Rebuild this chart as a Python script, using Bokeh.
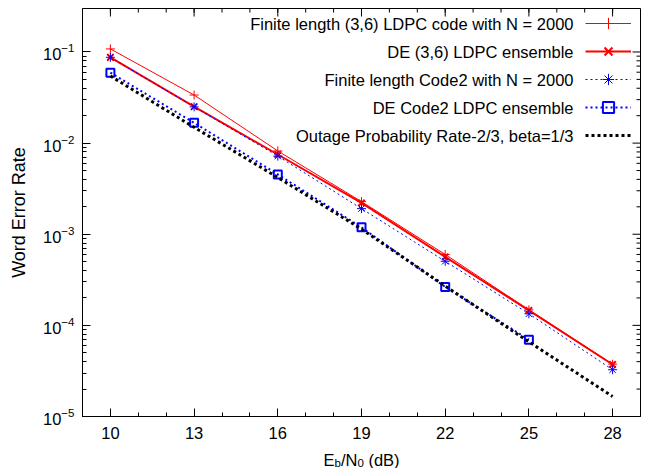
import math
from bokeh.plotting import figure
from bokeh.layouts import column
from bokeh.models import Range1d, FixedTicker, Legend, LegendItem, Label
from bokeh.embed import file_html
from bokeh.resources import INLINE

# ---------------- data ----------------
ebn0 = [10, 13, 16, 19, 22, 25, 28]
wer_finite_36 = [0.108, 0.0337, 0.0082, 0.00228, 6.0e-4, 1.48e-4, 3.75e-5]
wer_de_36 = [0.0874, 0.0251, 0.0075, 0.00221, 5.64e-4, 1.46e-4, 3.72e-5]
wer_finite_code2 = [0.0874, 0.0250, 0.0072, 0.00191, 5.05e-4, 1.34e-4, 3.26e-5]
ebn0_de_code2 = [10, 13, 16, 19, 22, 25]
wer_de_code2 = [0.0593, 0.0167, 0.00453, 0.00119, 2.64e-4, 6.97e-5]
wer_outage = [0.0545, 0.0149, 0.0042, 0.00114, 2.7e-4, 6.6e-5, 1.66e-5]

legend_labels = [
    "Finite length (3,6) LDPC code with N = 2000",
    "DE (3,6) LDPC ensemble",
    "Finite length Code2 with N = 2000",
    "DE Code2 LDPC ensemble",
    "Outage Probability Rate-2/3, beta=1/3",
]
x_major_ticks = [10, 13, 16, 19, 22, 25, 28]
x_minor_ticks = list(range(9, 30))
y_major_ticks = [1e-5, 1e-4, 1e-3, 1e-2, 1e-1]
y_minor_ticks = [m * d for d in [1e-5, 1e-4, 1e-3, 1e-2] for m in range(2, 10)]
X_MIN, X_MAX = 9, 29
Y_MIN, Y_MAX = 1e-5, 0.3

FONT = "Liberation Sans"
FS = "16.5px"

W = 647
H1, H2 = 446, 22
BL, BR, BT = 82, 7, 8
FRAME_H = 408
BB = H1 - BT - FRAME_H

p = figure(width=W, height=H1, x_range=Range1d(X_MIN, X_MAX), y_range=Range1d(Y_MIN, Y_MAX),
           y_axis_type="log", output_backend="svg", toolbar_location=None,
           min_border_left=BL, min_border_right=BR, min_border_top=BT,
           min_border_bottom=BB)
p.xgrid.visible = False
p.ygrid.visible = False
p.outline_line_color = "black"
p.outline_line_alpha = 1.0
p.outline_line_width = 1
p.background_fill_color = "white"
p.border_fill_color = "white"

for ax in (p.xaxis[0], p.yaxis[0]):
    ax.major_tick_in = 8
    ax.major_tick_out = 0
    ax.minor_tick_in = 4
    ax.minor_tick_out = 0
    ax.major_tick_line_color = "black"
    ax.minor_tick_line_color = "black"
    ax.axis_line_color = "black"
    ax.major_label_text_font = FONT
    ax.major_label_text_font_size = FS
    ax.major_label_text_color = "black"

xax = p.xaxis[0]
yax = p.yaxis[0]
xax.ticker = FixedTicker(ticks=x_major_ticks, minor_ticks=x_minor_ticks)
yax.ticker = FixedTicker(ticks=y_major_ticks, minor_ticks=y_minor_ticks)
xax.major_label_standoff = 10
yax.major_label_standoff = 8
yax.axis_label = "Word Error Rate"
yax.axis_label_text_font = FONT
yax.axis_label_text_font_size = "18px"
yax.axis_label_text_font_style = "normal"
yax.axis_label_text_color = "black"
yax.axis_label_standoff = 11

# mirrored ticks on the top and right borders (from the tick arrays)
p.ray(x=x_major_ticks, y=[Y_MAX] * len(x_major_ticks), length=8, length_units="screen",
      angle=-math.pi / 2, line_color="black", line_width=1)
p.ray(x=x_minor_ticks, y=[Y_MAX] * len(x_minor_ticks), length=4, length_units="screen",
      angle=-math.pi / 2, line_color="black", line_width=1)
p.ray(x=[X_MAX] * len(y_major_ticks), y=y_major_ticks, length=8, length_units="screen",
      angle=math.pi, line_color="black", line_width=1)
p.ray(x=[X_MAX] * len(y_minor_ticks), y=y_minor_ticks, length=4, length_units="screen",
      angle=math.pi, line_color="black", line_width=1)

RED = "#ff0000"
BLUE = "#0000ff"

r1l = p.line(ebn0, wer_finite_36, line_color=RED, line_width=1)
r1m = p.scatter(ebn0, wer_finite_36, marker="cross", size=9, line_color=RED, line_width=1)
r2l = p.line(ebn0, wer_de_36, line_color=RED, line_width=2)
r2m = p.scatter(ebn0, wer_de_36, marker="x", size=9, line_color=RED, line_width=2)
r3l = p.line(ebn0, wer_finite_code2, line_color=BLUE, line_width=1, line_dash="2 3")
r3m = p.scatter(ebn0, wer_finite_code2, marker="asterisk", size=9, line_color=BLUE, line_width=1)
r4l = p.line(ebn0_de_code2, wer_de_code2, line_color=BLUE, line_width=2, line_dash="2 3")
r4m = p.scatter(ebn0_de_code2, wer_de_code2, marker="square", size=8, line_color=BLUE,
                line_width=2, fill_color=None)
r5l = p.line(ebn0, wer_outage, line_color="black", line_width=3, line_dash="3 3")

items = [
    LegendItem(label=" ", renderers=[r1l, r1m]),
    LegendItem(label=" ", renderers=[r2l, r2m]),
    LegendItem(label=" ", renderers=[r3l, r3m]),
    LegendItem(label=" ", renderers=[r4l, r4m]),
    LegendItem(label=" ", renderers=[r5l]),
]
ROW = 28
LEG_TOP = 1
legend = Legend(items=items, location=(503, FRAME_H - LEG_TOP - 5 * ROW), orientation="vertical",
                glyph_width=46, glyph_height=ROW, label_height=ROW, label_width=1,
                label_standoff=0, spacing=0, padding=0, margin=0,
                border_line_alpha=0, background_fill_alpha=0,
                label_text_font_size="2px")
p.add_layout(legend)

for i, txt in enumerate(legend_labels):
    p.add_layout(Label(x=491, y=FRAME_H - LEG_TOP - ROW // 2 - ROW * i,
                       x_units="screen", y_units="screen",
                       text=txt, text_align="right", text_baseline="middle",
                       text_font=FONT, text_font_size=FS, text_color="black"))

# x-axis label strip: E_b/N_0 (dB) composed of pieces for the subscripts
p2 = figure(width=W, height=H2, x_range=Range1d(0, 1), y_range=Range1d(0, 1),
            output_backend="svg", toolbar_location=None,
            x_axis_location=None, y_axis_location=None,
            min_border_left=BL, min_border_right=BR, min_border_top=0, min_border_bottom=0)
p2.outline_line_color = None
p2.xgrid.visible = False
p2.ygrid.visible = False
p2.background_fill_color = "white"
p2.border_fill_color = "white"

# (text, x offset in px, subscript?)
xl_parts = [("E", 0, False), ("b", 11.0, True), ("/N", 17.4, False), ("0", 33.9, True),
            ("(dB)", 44.9, False)]
x0 = 241
for txt, dx, sub in xl_parts:
    p2.add_layout(Label(x=x0 + dx, y=6 if sub else 9, x_units="screen", y_units="screen",
                        text=txt, text_align="left", text_baseline="alphabetic",
                        text_font=FONT, text_font_size="11.5px" if sub else FS,
                        text_color="black"))

layout = column(p, p2, spacing=0)
open("out.html", "w").write(file_html(layout, INLINE))
